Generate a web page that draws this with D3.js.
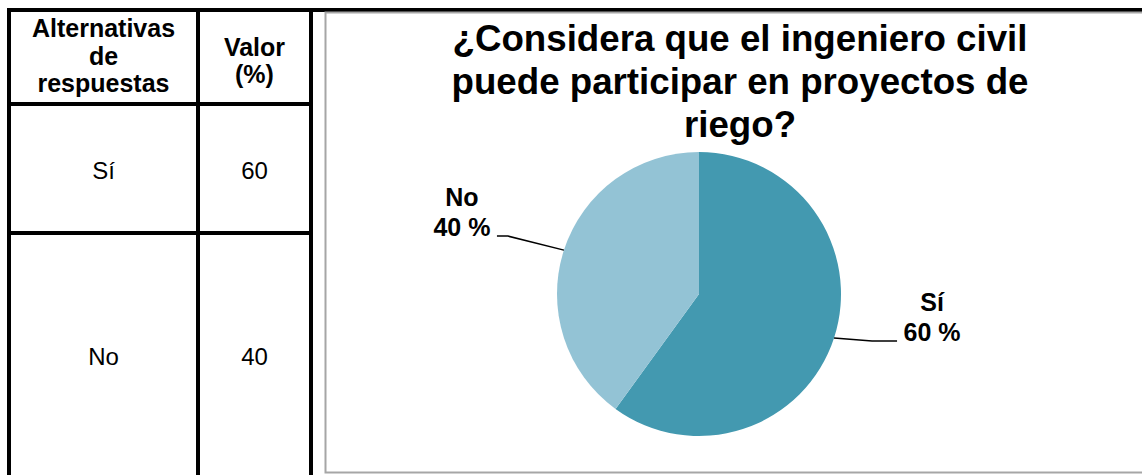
<!DOCTYPE html>
<html>

<head>
    <meta charset="UTF-8">
    <style>
        body { margin: 0; background: #fff; }
        svg { display: block; font-family: "Liberation Sans", Arial, sans-serif; }
    </style>
</head>

<body>
    <svg></svg>
    <script src="https://d3js.org/d3.v7.min.js"></script>

    <script>
        const w = 1142;
        const h = 475;

        // data
        const categories = ["Sí", "No"];
        const values = [60, 40];
        const colors = ["#4399b0", "#93c3d5"];
        const headerAlt = ["Alternativas", "de", "respuestas"];
        const headerVal = ["Valor", "(%)"];
        const titleLines = ["¿Considera que el ingeniero civil", "puede participar en proyectos de", "riego?"];

        let svg = d3.select("svg")
            .attr("width", w)
            .attr("height", h);

        // ---- table on the left ----
        const colX = [9, 198, 311];
        const rowY = [10, 104, 233];
        const rowTextY = [179, 365];

        const table = svg.append("g").attr("id", "table");

        // header text
        table.selectAll("text.alt")
            .data(headerAlt)
            .enter()
            .append("text")
            .attr("class", "alt")
            .attr("x", (colX[0] + colX[1]) / 2)
            .attr("y", (d, i) => 37 + i * 27.5)
            .attr("text-anchor", "middle")
            .attr("font-size", "25px")
            .attr("font-weight", "bold")
            .text(d => d);

        table.selectAll("text.val")
            .data(headerVal)
            .enter()
            .append("text")
            .attr("class", "val")
            .attr("x", (colX[1] + colX[2]) / 2)
            .attr("y", (d, i) => 56 + i * 27)
            .attr("text-anchor", "middle")
            .attr("font-size", "25px")
            .attr("font-weight", "bold")
            .text(d => d);

        // body rows
        categories.forEach((c, i) => {
            table.append("text")
                .attr("x", (colX[0] + colX[1]) / 2)
                .attr("y", rowTextY[i])
                .attr("text-anchor", "middle")
                .attr("font-size", "24px")
                .text(c);
            table.append("text")
                .attr("x", (colX[1] + colX[2]) / 2)
                .attr("y", rowTextY[i])
                .attr("text-anchor", "middle")
                .attr("font-size", "24px")
                .text(values[i]);
        });

        // grid lines
        colX.forEach(x => {
            table.append("line")
                .attr("x1", x).attr("x2", x)
                .attr("y1", rowY[0] - 2).attr("y2", h)
                .attr("stroke", "#000").attr("stroke-width", 4);
        });
        rowY.slice(1).forEach(y => {
            table.append("line")
                .attr("x1", colX[0]).attr("x2", colX[2])
                .attr("y1", y).attr("y2", y)
                .attr("stroke", "#000").attr("stroke-width", 4);
        });
        // top rule across the whole page
        svg.append("line")
            .attr("x1", colX[0] - 2).attr("x2", w)
            .attr("y1", 10).attr("y2", 10)
            .attr("stroke", "#000").attr("stroke-width", 4);

        // ---- chart box ----
        svg.append("rect")
            .attr("x", 325.5)
            .attr("y", 12.5)
            .attr("width", w)
            .attr("height", 460)
            .attr("fill", "none")
            .attr("stroke", "#a6a6a6")
            .attr("stroke-width", 2);

        // title
        svg.append("g")
            .selectAll("text")
            .data(titleLines)
            .enter()
            .append("text")
            .attr("x", 740)
            .attr("y", (d, i) => 51 + i * 43)
            .attr("text-anchor", "middle")
            .attr("font-size", "36.7px")
            .attr("font-weight", "bold")
            .text(d => d);

        // pie
        const cx = 699, cy = 294, r = 142;
        const pie = d3.pie().sort(null).value(d => d);
        const arc = d3.arc().innerRadius(0).outerRadius(r);
        const arcs = pie(values);

        const g = svg.append("g")
            .attr("transform", "translate(" + cx + "," + cy + ")");

        g.selectAll("path")
            .data(arcs)
            .enter()
            .append("path")
            .attr("d", arc)
            .attr("fill", (d, i) => colors[i]);

        // labels with leader lines
        const labelArc = d3.arc().innerRadius(r).outerRadius(r);
        const elbow = [[38, 3], [-56, -14]];
        const tail = [25, -11];

        arcs.forEach((d, i) => {
            const p0 = labelArc.centroid(d);
            const p1 = [p0[0] + elbow[i][0], p0[1] + elbow[i][1]];
            const p2 = [p1[0] + tail[i], p1[1]];
            g.append("polyline")
                .attr("points", [p0, p1, p2].map(p => p.join(",")).join(" "))
                .attr("fill", "none")
                .attr("stroke", "#000")
                .attr("stroke-width", 1.5);

            const right = p2[0] > 0;
            const tx = right ? p2[0] + 35 : p2[0] - 35;
            const lbl = g.append("text")
                .attr("text-anchor", "middle")
                .attr("font-size", "25px")
                .attr("font-weight", "bold");
            lbl.append("tspan")
                .attr("x", tx)
                .attr("y", p2[1] - 30)
                .text(categories[i]);
            lbl.append("tspan")
                .attr("x", tx)
                .attr("y", p2[1])
                .text(values[i] + " %");
        });
    </script>

</body>

</html>
